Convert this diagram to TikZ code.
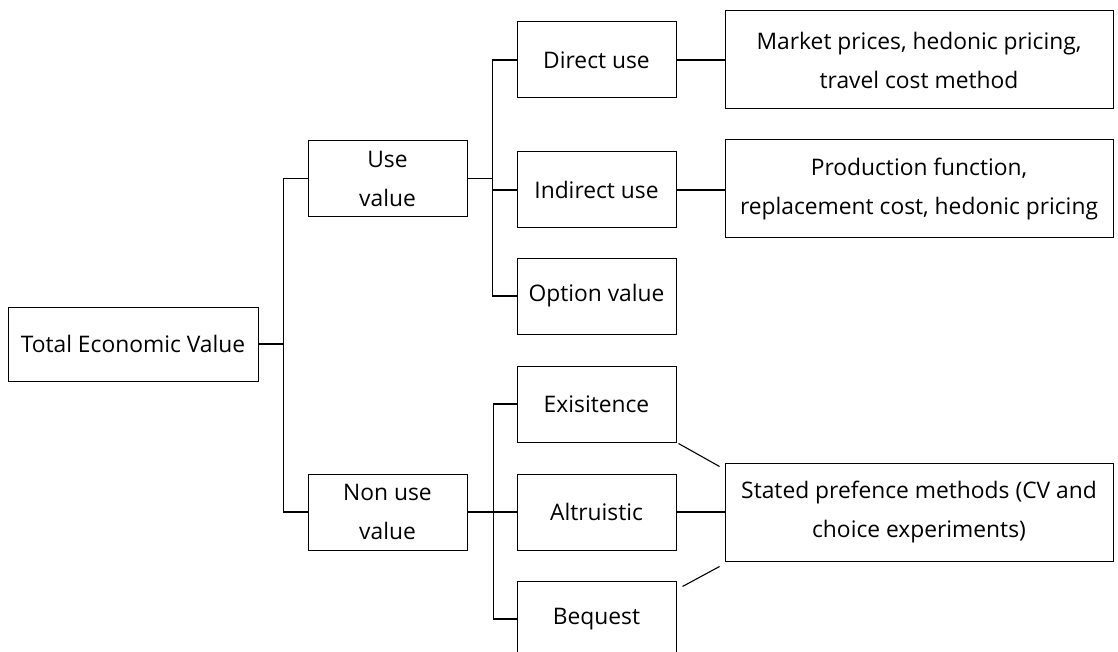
\documentclass[tikz,border=0pt]{standalone}
\usepackage{fontspec}
\setmainfont{Open Sans}
\usetikzlibrary{calc}
\begin{document}
\begin{tikzpicture}[x=1pt,y=-1pt,
  box/.style={draw=black, line width=1pt, inner sep=0pt, align=center,
    font=\fontsize{22.8}{39}\selectfont},
  small/.style={box, minimum width=159pt, minimum height=76pt},
  wide/.style={box, minimum width=388pt, minimum height=98pt},
  link/.style={draw=black, line width=1.1pt}]
\clip (0,0) rectangle (1118,652);
\fill[white] (0,0) rectangle (1118,652);
% nodes
\node[box, minimum width=250pt, minimum height=74pt] (tev) at (133,344) {Total Economic Value};
\node[small] (use) at (387.5,178.5) {Use\\value};
\node[small] (nonuse) at (387.5,512) {Non use\\value};
\node[small] (direct) at (596.5,60) {Direct use};
\node[small] (indirect) at (596.5,190) {Indirect use};
\node[small] (option) at (596.5,296) {Option value};
\node[small] (exis) at (596.5,404) {Exisitence};
\node[small] (altru) at (596.5,512) {Altruistic};
\node[small] (beq) at (596.5,619) {Bequest};
\node[wide] (market) at (919,60) {Market prices, hedonic pricing,\\travel cost method};
\node[wide] (prod) at (919,189) {Production function,\\replacement cost, hedonic pricing};
\node[wide] (stated) at (919,512) {Stated prefence methods (CV and\\choice experiments)};
% bus coordinates
\coordinate (b1) at (283.5,344);
\coordinate (b2) at (492.5,178.5);
\coordinate (b3) at (493.5,512);
% connectors
\path[link] (tev.east) -- (b1);
\path[link] (use.west) -| (b1) |- (nonuse.west);
\path[link] (use.east) -- (b2);
\path[link] (direct.west) -| (b2) |- (option.west);
\path[link] (b2) |- (indirect.west);
\path[link] (nonuse.east) -- (altru.west);
\path[link] (exis.west) -| (b3) |- (beq.west);
\path[link] (direct.east) -- (market.west);
\path[link] (indirect.east) -- (indirect.east -| prod.west);
\path[link] (altru.east) -- (stated.west);
\path[link] ($(exis.south east)+(2,1)$) -- ($(stated.north west)+(-5,4)$);
\path[link] ($(beq.north east)+(6,6)$) -- ($(stated.south west)+(-5,5)$);
\end{tikzpicture}
\end{document}
